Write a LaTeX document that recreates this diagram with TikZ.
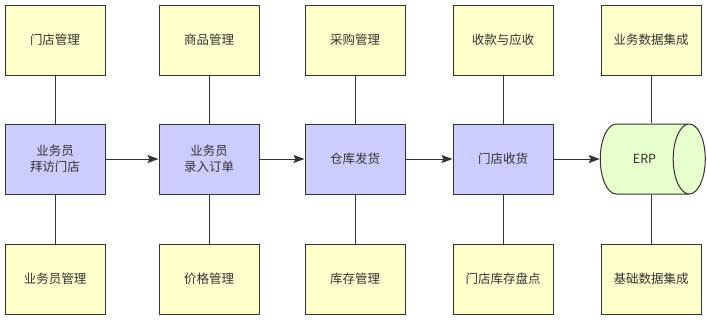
\documentclass[tikz,border=0pt]{standalone}
\usepackage{fontspec}
\setmainfont{Noto Sans CJK SC}
\usetikzlibrary{arrows.meta,positioning,shapes.geometric}
\definecolor{linegray}{HTML}{333333}
\definecolor{textgray}{HTML}{333333}
\definecolor{modyellow}{HTML}{FFFFCC}
\definecolor{taskblue}{HTML}{CCCCFF}
\definecolor{erpgreen}{HTML}{E6FFCC}

\begin{document}
\begin{tikzpicture}[x=1pt,y=-1pt,>={Stealth[length=11pt,width=8pt,inset=2pt]},
    box/.style={draw=linegray,line width=1pt,minimum width=100pt,minimum height=70pt,
        inner sep=0pt,align=center,text=textgray,font=\fontsize{12.5}{16}\selectfont},
    module/.style={box,fill=modyellow},
    task/.style={box,fill=taskblue},
    link/.style={draw=linegray,line width=1pt}]
    \useasboundingbox (0,0) rectangle (707,322);

    % Process chain
    \node[task] (visit) at (55,159) {业务员\\拜访门店};
    \node[task] (order) at (209,159) {业务员\\录入订单};
    \node[task] (ship) at (355,159) {仓库发货};
    \node[task] (recv) at (503,159) {门店收货};
    \node[box,fill=erpgreen,shape=cylinder,shape aspect=3.5,
        minimum width=70pt,minimum height=105pt] (erp) at (644.5,159) {ERP};

    % Modules above
    \node[module] (storemgr) at (55,40) {门店管理};
    \node[module] (goodsmgr) at (209,40) {商品管理};
    \node[module] (purchase) at (355,40) {采购管理};
    \node[module] (payment) at (503,40) {收款与应收};
    \node[module] (bizdata) at (651,40) {业务数据集成};

    % Modules below
    \node[module] (salesmgr) at (55,279) {业务员管理};
    \node[module] (pricemgr) at (209,279) {价格管理};
    \node[module] (stockmgr) at (355,279) {库存管理};
    \node[module] (stockcheck) at (503,279) {门店库存盘点};
    \node[module] (basedata) at (651,279) {基础数据集成};

    % Flow arrows
    \draw[link,->] (visit) -- (order);
    \draw[link,->] (order) -- (ship);
    \draw[link,->] (ship) -- (recv);
    \draw[link,->] (recv) -- (erp);

    % Vertical links
    \foreach \up/\mid/\down in {storemgr/visit/salesmgr,goodsmgr/order/pricemgr,
        purchase/ship/stockmgr,payment/recv/stockcheck} {
        \draw[link] (\up) -- (\mid);
        \draw[link] (\mid) -- (\down);
    }
    \draw[link] (bizdata.south) -- (bizdata.south |- erp.north);
    \draw[link] (basedata.north |- erp.south) -- (basedata.north);
\end{tikzpicture}
\end{document}
